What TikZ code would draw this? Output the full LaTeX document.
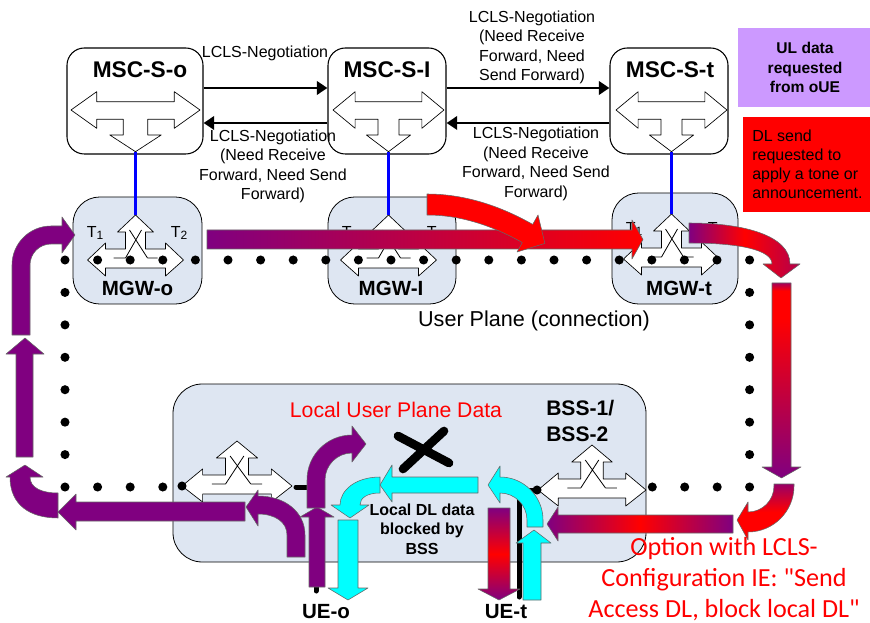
\documentclass[tikz,border=0pt]{standalone}
\usepackage{fontspec}
\setmainfont{Liberation Sans}
\newfontfamily\calfont{Carlito}
\usetikzlibrary{arrows.meta}
\definecolor{purp}{RGB}{128,0,128}
\definecolor{boxfill}{RGB}{222,230,242}
\definecolor{lilac}{RGB}{204,153,255}
\definecolor{cyanA}{RGB}{0,255,255}
\definecolor{blueL}{RGB}{0,0,255}
\pgfdeclareverticalshading{rvshade}{100bp}{color(0bp)=(purp); color(25bp)=(purp); color(66bp)=(red); color(73bp)=(red); color(75bp)=(purp!70!red); color(100bp)=(purp!70!red)}
\newcommand\myfs[2]{\fontsize{#1}{#2}\selectfont}
\newcommand\tsub[1]{T\raisebox{-0.35ex}{\myfs{9}{9}#1}}
\newcommand\mscsym[3]{%
\begin{scope}[shift={(#1,#2)},xscale=#3]
\draw[symb] (-64.5,0) -- (-38.8,-18.3) -- (-38.8,-8.3) -- (38.8,-8.3) -- (38.8,-18.3) -- (64.5,0) -- (38.8,18.3) -- (38.8,9.3) -- (12.2,9.3) -- (12.2,25) -- (25.7,25) -- (0,41.7) -- (-25.7,25) -- (-12.2,25) -- (-12.2,9.3) -- (-38.8,9.3) -- (-38.8,18.3) -- cycle;
\end{scope}}
\newcommand\mgwsym[3]{%
\begin{scope}[shift={(#1,#2)},xscale=#3]
\draw[symb] (-48,0) -- (-30,-17) -- (-30,-11) -- (-10,-11) -- (-10,-28) -- (-18,-28) -- (0,-45) -- (18,-28) -- (10,-28) -- (10,-11) -- (30,-11) -- (30,-17) -- (48,0) -- (30,16) -- (30,8) -- (-30,8) -- (-30,16) -- cycle;
\draw[line width=0.6pt] (-6,-30) -- (12,-2) (6,-30) -- (-10,-2) (-22,-2) -- (-10,-2) (12,-2) -- (22,-2);
\end{scope}}
\begin{document}
\begin{tikzpicture}[x=0.75pt,y=-0.75pt,line join=round,
 symb/.style={draw=black,fill=white,line width=0.5pt},
 conn/.style={line width=2.2pt,-{Triangle[length=8pt,width=10pt]}},
 blk/.style={draw=black!60,line width=0.4pt},
 mscbox/.style={draw=black,fill=white,line width=0.8pt,rounded corners=13pt,inner sep=0pt},
 mgwbox/.style={draw=black,fill=boxfill,line width=0.6pt,rounded corners=20pt,inner sep=0pt},
 lbl/.style={font=\myfs{12}{14.6},align=center,inner sep=0pt},
 ttl/.style={font=\bfseries\myfs{17}{20},inner sep=0pt},
 mgwl/.style={font=\bfseries\myfs{15.4}{18},inner sep=0pt},
 tl/.style={font=\myfs{12}{14},inner sep=0pt},
 blueline/.style={draw=blueL,line width=2.2pt}]
\useasboundingbox (0,0) rectangle (870,623);

% legend
\node[fill=lilac,minimum width=99pt,minimum height=59.25pt,inner sep=0pt] (legul) at (804,67.5) {};
\node[font=\bfseries\myfs{11.7}{14.6},align=center,inner sep=0pt] (legultxt) at (805,67.5) {UL data\\requested\\from oUE};
\node[fill=red,minimum width=95.25pt,minimum height=71.25pt,inner sep=0pt] (legdl) at (806.5,164.5) {};
\node[font=\myfs{12}{14.3},align=left,inner sep=0pt,anchor=west] (legdltxt) at (752,164) {DL send\\requested to\\apply a tone or\\announcement.};

% MSC servers
\node[mscbox,minimum width=102pt,minimum height=79.5pt] (msco) at (135,101) {};
\node[mscbox,minimum width=88.5pt,minimum height=79.5pt] (msci) at (387,101) {};
\node[mscbox,minimum width=88.5pt,minimum height=79.5pt] (msct) at (669,101) {};
\mscsym{135.5}{110}{1}
\mscsym{388.5}{110}{0.86}
\mscsym{671.5}{110}{0.86}
\node[ttl] (mscot) at (140,70) {MSC-S-o};
\node[ttl] (mscit) at (387,70) {MSC-S-I};
\node[ttl] (msctt) at (670,70) {MSC-S-t};

% connectors
\coordinate (yA) at (0,88);
\coordinate (yB) at (0,123);
\draw[conn] (msco.east |- yA) -- (msci.west |- yA);
\draw[conn] (msci.west |- yB) -- (msco.east |- yB);
\draw[conn] (msci.east |- yA) -- (msct.west |- yA);
\draw[conn] (msct.west |- yB) -- (msci.east |- yB);
\node[lbl] (lab1) at (265,53) {LCLS-Negotiation};
\node[lbl] (lab2) at (273,166.5) {LCLS-Negotiation\\(Need Receive\\Forward, Need Send\\Forward)};
\node[lbl] (lab3) at (532,47.5) {LCLS-Negotiation\\(Need Receive\\Forward, Need\\Send Forward)};
\node[lbl] (lab4) at (536,164) {LCLS-Negotiation\\(Need Receive\\Forward, Need Send\\Forward)};

% MGWs
\node[mgwbox,minimum width=96.75pt,minimum height=80.25pt] (mgwo) at (137.5,250.5) {};
\node[mgwbox,minimum width=96pt,minimum height=80.25pt] (mgwi) at (392,250.5) {};
\node[mgwbox,minimum width=94.5pt,minimum height=83.25pt] (mgwt) at (675,248.5) {};
\mgwsym{135.5}{260}{1}
\mgwsym{388.5}{260}{1}
\mgwsym{671.5}{259}{1}
\node[mgwl] (mgwot) at (137.5,288) {MGW-o};
\node[mgwl] (mgwit) at (391,288) {MGW-I};
\node[mgwl] (mgwtt) at (679,288) {MGW-t};
\node[tl] (t1o) at (95,233) {\tsub{1}};
\node[tl] (t2o) at (179,233) {\tsub{2}};
\node[tl] (t1i) at (350,233) {\tsub{1}};
\node[tl] (t2i) at (435,233) {\tsub{2}};
\node[tl] (t1t) at (634,229) {\tsub{1}};
\node[tl] (t2t) at (716,229) {\tsub{2}};

% blue control links
\coordinate (msco-tip) at (135.5,151.7);
\coordinate (mgwo-tip) at (135.5,215);
\coordinate (msci-tip) at (388.5,151.7);
\coordinate (mgwi-tip) at (388.5,215);
\coordinate (msct-tip) at (671.5,151.7);
\coordinate (mgwt-tip) at (671.5,214);
\draw[blueline] (msco-tip) -- (mgwo-tip);
\draw[blueline] (msci-tip) -- (mgwi-tip);
\draw[blueline] (msct-tip) -- (mgwt-tip);

% BSS
\node[mgwbox,rounded corners=22pt,minimum width=354.75pt,minimum height=133.5pt] (bss) at (409.5,473) {};
\mgwsym{237}{486}{1.146}
\mgwsym{592}{490}{1.125}
\fill (182,486) circle[radius=3.4pt];
\fill (537,490) circle[radius=3.4pt];

% user plane dots
\foreach \k in {0,...,21} \fill (65+32.6*\k,260) circle[radius=3.4pt];
\foreach \k in {1,...,7} \fill (749.6,260+32.43*\k) circle[radius=3.4pt];
\foreach \k in {1,...,7} \fill (65,260+32.43*\k) circle[radius=3.4pt];
\foreach \x in {97.6,130.2,162.8,652.3,684.7,717.2} \fill (\x,487) circle[radius=3.4pt];

% UE attachment lines
\draw[line width=3.75pt,line cap=round] (296,487) -- (316,487) -- (316,591);
\draw[line width=3.75pt,line cap=round] (537,490) -- (519,490) -- (519,597);

% top flow
\shadedraw[left color=purp,right color=red,blk] (207,230) -- (632,230) -- (632,220) -- (643,239.5) -- (632,259) -- (632,249) -- (207,249) -- cycle;
\filldraw[fill=red,blk] (427,194) .. controls (464.4,194) and (500.2,205.9) .. (532.7,224.4) -- (538,215) -- (544.9,243.4) -- (517,252) -- (522.3,242.6) .. controls (492.9,225.9) and (460.8,215) .. (427,215) -- cycle;
\shadedraw[left color=purp,right color=purp!60!red,middle color=red,blk] (689,223) .. controls (745,223) and (790,236) .. (790,264) -- (800,264) -- (781,278) -- (763,264) -- (772,264) .. controls (772,250) and (740,243) .. (689,243) -- cycle;
\shadedraw[shading=rvshade,blk] (772,283) -- (791,283) -- (791,467) -- (801,467) -- (781.5,478) -- (762,467) -- (772,467) -- cycle;
\shadedraw[top color=purp!80!red,bottom color=red,middle color=red,blk] (774,484) -- (794,484) -- (794,486) .. controls (794,511.4) and (773.4,532) .. (748,532) -- (748,540) -- (737,520) -- (748,502) -- (748,512) .. controls (762.4,512) and (774,500.4) .. (774,486) -- cycle;
\shadedraw[left color=purp,right color=purp,middle color=red,blk] (733,515) -- (558,515) -- (558,507) -- (547,524) -- (558,541) -- (558,533) -- (733,533) -- cycle;

% UE-t side
\shadedraw[top color=purp,bottom color=purp,middle color=red,blk] (488,508) -- (510,508) -- (510,589) -- (520,589) -- (499,600) -- (478,589) -- (488,589) -- cycle;
\filldraw[fill=cyanA,blk] (523,600) -- (523,543) -- (516,543) -- (534,530) -- (551,543) -- (541,543) -- (541,600) -- cycle;
\filldraw[fill=cyanA,blk] (543,527) -- (543,520) .. controls (543,496.3) and (523.7,477) .. (500,477) -- (500,466) -- (488,485) -- (500,503) -- (500,493) .. controls (514.9,493) and (527,505.1) .. (527,520) -- (527,527) -- cycle;
% local DL
\filldraw[fill=cyanA,blk] (380,477) .. controls (356,477) and (340,490) .. (340,505) -- (331,505) -- (350,518) -- (369,505) -- (360,505) .. controls (360,498) and (367,493) .. (380,493) -- cycle;
\filldraw[fill=cyanA,blk] (478,477) -- (392,477) -- (392,465) -- (380,485) -- (392,502) -- (392,493) -- (478,493) -- cycle;
\filldraw[fill=cyanA,blk] (338,520) -- (358,520) -- (358,588) -- (368,588) -- (348,600) -- (328,588) -- (338,588) -- cycle;

% UL purple flows
\filldraw[fill=purp,blk] (245,502) -- (76,502) -- (76,494) -- (58,512) -- (76,530) -- (76,521) -- (245,521) -- cycle;
\filldraw[fill=purp,blk] (305,557) -- (305,535) .. controls (305,512) and (285,496) .. (258,496) -- (258,490) -- (246,507) -- (258,526) -- (258,514) .. controls (275,514) and (287,522) .. (287,535) -- (287,557) -- cycle;
\filldraw[fill=purp,blk] (58,493) .. controls (42,493) and (30,488) .. (30,477) -- (43,477) -- (25,465) -- (6,477) -- (10,477) .. controls (10,505) and (30,518) .. (58,518) -- cycle;
\filldraw[fill=purp,blk] (16,457) -- (16,354) -- (6,354) -- (25,338) -- (44,354) -- (33,354) -- (33,457) -- cycle;
\filldraw[fill=purp,blk] (12,335) -- (12,265) .. controls (12,243.5) and (29.5,226) .. (51,226) -- (62,226) -- (62,217) -- (75,235) -- (62,253) -- (62,244) -- (51,244) .. controls (39.4,244) and (30,253.4) .. (30,265) -- (30,335) -- cycle;
\filldraw[fill=purp,blk] (309,587) -- (309,517) -- (300,517) -- (317,507) -- (334,517) -- (325,517) -- (325,587) -- cycle;
\filldraw[fill=purp,blk] (307,508) -- (307,480) .. controls (307,455.1) and (327.1,435) .. (352,435) -- (352,426) -- (366,444) -- (352,462) -- (352,453) .. controls (337.1,453) and (325,465.1) .. (325,480) -- (325,508) -- cycle;

% blocking cross
\draw[line width=6.5pt,line cap=round] (398,436) -- (449,463) (444,431) -- (403,469);

% texts
\node[font=\myfs{16.2}{19},inner sep=0pt] (uptxt) at (534,321) {User Plane (connection)};
\node[font=\myfs{15.9}{19},text=red,inner sep=0pt] (lupd) at (396,410) {Local User Plane Data};
\node[font=\bfseries\myfs{15.8}{19.5},align=left,inner sep=0pt,anchor=west] (bsstxt) at (546,421) {BSS-1/\\BSS-2};
\node[font=\bfseries\myfs{12}{14.6},align=center,inner sep=0pt] (dlblk) at (422,529) {Local DL data\\blocked by\\BSS};
\node[font=\bfseries\myfs{15.4}{18},inner sep=0pt] (ueo) at (326,612) {UE-o};
\node[font=\bfseries\myfs{15.4}{18},inner sep=0pt] (uet) at (506,612) {UE-t};
\node[font=\calfont\myfs{19.6}{23.25},text=red,align=center,inner sep=0pt] (opt) at (724,579) {Option with LCLS-\\Configuration IE: "Send\\Access DL, block local DL"};
\end{tikzpicture}
\end{document}
